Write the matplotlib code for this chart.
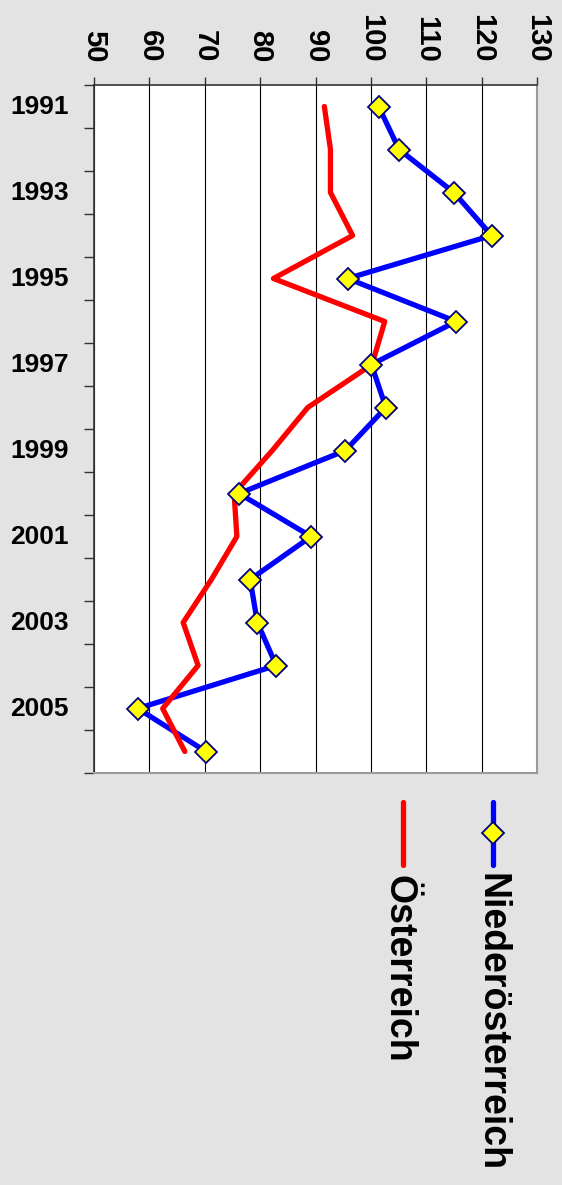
import numpy as np
import matplotlib
matplotlib.use("Agg")
import matplotlib.pyplot as plt
from matplotlib.lines import Line2D

plt.rcParams['font.family'] = ['Liberation Sans', 'DejaVu Sans']
plt.rcParams['font.weight'] = 'bold'

# data
years = list(range(1991, 2007))
noe = [101.4, 105.1, 115.0, 121.8, 95.8, 115.4, 100.1, 102.7,
       95.4, 76.2, 89.2, 78.2, 79.5, 82.9, 57.9, 70.2]
oe = [91.6, 92.7, 92.7, 96.7, 82.4, 102.5, 100.2, 88.6,
      82.2, 75.3, 75.8, 71.2, 66.1, 68.8, 62.4, 66.4]
value_ticks = [50, 60, 70, 80, 90, 100, 110, 120, 130]
series_names = ['Niederösterreich', 'Österreich']

fig = plt.figure(figsize=(5.62, 11.85), dpi=100)
fig.patch.set_facecolor('#e3e3e3')

ax = fig.add_axes([94/562, 1 - 773/1185, 443/562, 688/1185])
ax.set_facecolor('white')

idx = np.arange(len(years))

# lines (chart is turned on its side: values run left to right, years downwards)
ax.plot(noe, idx, color='#0000ff', lw=3.8, solid_joinstyle='miter', zorder=3)
ax.plot(oe, idx, color='#ff0000', lw=3.8, solid_capstyle='round', zorder=4)
ax.plot(noe, idx, ls='none', marker='D', ms=11, mfc='#ffff00',
        mec='#000080', mew=1.3, zorder=5)

ax.set_xlim(50, 130)
ax.set_ylim(len(years) - 0.5, -0.5)

# value axis on top, rotated labels
ax.xaxis.tick_top()
ax.set_xticks(value_ticks)
ax.set_xticklabels([str(v) for v in value_ticks], rotation=-90,
                   fontsize=21, fontweight='bold')
ax.tick_params(axis='x', direction='out', length=6, width=1, color='#333333', pad=10)
ax.grid(axis='x', color='black', lw=0.8)
ax.set_axisbelow(True)

# category axis on the left: ticks between years, every other year labelled
ax.set_yticks(np.arange(-0.5, len(years)), labels=[])
ax.set_yticks(idx[::2], labels=[str(y) for y in years[::2]], minor=True)
ax.tick_params(axis='y', which='major', direction='out', length=7, width=1, color='#333333')
ax.tick_params(axis='y', which='minor', length=0, pad=18, labelsize=19)
for lab in ax.get_yticklabels(minor=True):
    lab.set_fontweight('bold')
    lab.set_va('center')

for side in ['left', 'top']:
    ax.spines[side].set_color('#333333')
    ax.spines[side].set_linewidth(1.2)
for side in ['right', 'bottom']:
    ax.spines[side].set_color('#9a9a9a')
    ax.spines[side].set_linewidth(1.5)

# legend drawn by hand, turned like the chart
def fx(px):
    return px / 562

def fy(py):
    return 1 - py / 1185

fig.add_artist(Line2D([fx(493), fx(493)], [fy(802), fy(865)], color='#0000ff',
                      lw=3.8, solid_capstyle='round'))
fig.add_artist(Line2D([fx(493)], [fy(833)], ls='none', marker='D', ms=11,
                      mfc='#ffff00', mec='#000080', mew=1.3))
fig.add_artist(Line2D([fx(403), fx(403)], [fy(802), fy(865)], color='#ff0000',
                      lw=3.8, solid_capstyle='round'))
fig.text(fx(492), fy(873), series_names[0], rotation=-90, ha='center', va='top',
         fontsize=27, fontweight='bold')
fig.text(fx(398), fy(875), series_names[1], rotation=-90, ha='center', va='top',
         fontsize=27, fontweight='bold')

fig.savefig('out.png', dpi=100, facecolor=fig.get_facecolor())
